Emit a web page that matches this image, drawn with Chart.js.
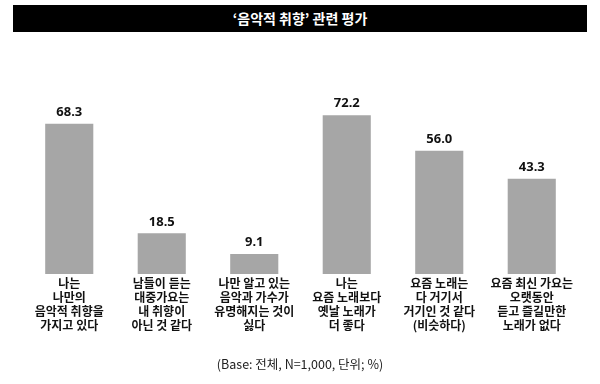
<!DOCTYPE html>
<html><head><meta charset="utf-8">
<script src="https://cdn.jsdelivr.net/npm/chart.js@4/dist/chart.umd.min.js"></script>
<style>
html,body{margin:0;padding:0;background:#fff;}
#wrap{position:relative;width:600px;height:384px;overflow:hidden;}
#title{position:absolute;left:13px;top:5px;width:574px;height:27px;background:#000;color:#fff;font:bold 14px "Noto Sans CJK KR",sans-serif;text-align:center;line-height:27px;}
#foot{position:absolute;left:0;top:354px;width:600px;text-align:center;font:12.5px "Noto Sans CJK KR",sans-serif;color:#222;}
canvas{position:absolute;left:0;top:0;}
</style></head>
<body><div id="wrap"><canvas id="c" width="600" height="384"></canvas>
<div id="title">‘음악적 취향’ 관련 평가</div>
<div id="foot">(Base: 전체, N=1,000, 단위; %)</div></div>
<script>
const categories = [
  ["나는","나만의","음악적 취향을","가지고 있다"],
  ["남들이 듣는","대중가요는","내 취향이","아닌 것 같다"],
  ["나만 알고 있는","음악과 가수가","유명해지는 것이","싫다"],
  ["나는","요즘 노래보다","옛날 노래가","더 좋다"],
  ["요즘 노래는","다 거기서","거기인 것 같다","(비슷하다)"],
  ["요즘 최신 가요는","오랫동안","듣고 즐길만한","노래가 없다"]
];
const values = [68.3, 18.5, 9.1, 72.2, 56.0, 43.3];

const valueLabels = {
  id:'valueLabels',
  afterDatasetsDraw(chart){
    const ctx = chart.ctx;
    const meta = chart.getDatasetMeta(0);
    ctx.save();
    ctx.font = 'bold 13px "Noto Sans", sans-serif';
    ctx.fillStyle = '#111';
    ctx.textAlign = 'center';
    ctx.textBaseline = 'bottom';
    meta.data.forEach((bar,i)=>{
      ctx.fillText(values[i].toFixed(1), bar.x, bar.y - 5);
    });
    ctx.restore();
  }
};

new Chart(document.getElementById('c'), {
  type:'bar',
  data:{labels:categories, datasets:[{data:values, backgroundColor:'#a6a6a6', barPercentage:0.52, categoryPercentage:1}]},
  options:{
    responsive:false, animation:false,
    layout:{padding:{left:23,right:22,top:98,bottom:50}},
    plugins:{legend:{display:false}, tooltip:{enabled:false}},
    scales:{
      x:{grid:{display:false,drawTicks:false}, border:{display:false},
         ticks:{padding:2, maxRotation:0, autoSkip:false, color:'#111',
                font:{family:'"Noto Sans CJK KR", sans-serif', size:12, weight:'bold', lineHeight:14/12}}},
      y:{display:false, min:0, max:80}
    }
  },
  plugins:[valueLabels]
});
</script></body></html>
